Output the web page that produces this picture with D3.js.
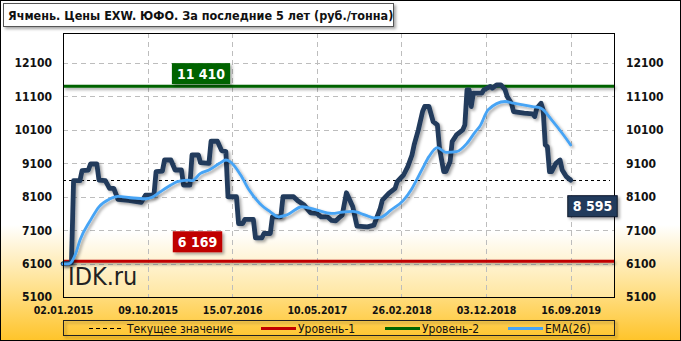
<!DOCTYPE html>
<html lang="ru">
	<head>
		<meta charset="utf-8">
		<title>Ячмень. Цены EXW. ЮФО</title>
		<script type="text/javascript" src="https://cdn.jsdelivr.net/npm/d3@7"></script>
		<style type="text/css">
			body { margin: 0; padding: 0; }
			svg { display: block; }
			text { font-family: "DejaVu Sans Condensed", "DejaVu Sans", sans-serif; }
		</style>
	</head>
	<body>
		<script type="text/javascript">

			/* data: weekly prices, index = week number from 02.01.2015 */
			var priceWeeks = [0, 4, 5, 8, 9, 12, 13, 16, 17, 20, 22, 24, 26, 31, 37, 39, 43, 44, 47, 48,
				51, 53, 56, 57, 60, 61, 64, 65, 69, 70, 73, 75, 77, 78, 82, 83, 85, 86, 90, 91,
				94, 95, 98, 99, 103, 104, 109, 111, 114, 117, 120, 122, 125, 127, 129, 131, 132, 134, 137, 139,
				144, 147, 150, 151, 154, 157, 158, 161, 163, 165, 166, 168, 170, 171, 173, 175, 177, 178, 180, 181,
				183, 184, 186, 189, 190, 191, 192, 193, 194, 198, 199, 202, 203, 205, 207, 209, 210, 212, 213, 218,
				222, 223, 224, 226, 227, 228, 229, 230, 231, 233, 235, 236, 237, 238, 240];
			var priceValues = [6100, 6120, 8580, 8580, 8880, 8900, 9080, 9080, 8600, 8580, 8350, 8350, 8020, 7990, 7930, 8150, 8150, 8850, 8870, 9200,
				9200, 8900, 8900, 8450, 8450, 9350, 9350, 9120, 9100, 9760, 9760, 9480, 9450, 8100, 8100, 7300, 7300, 7420, 7420, 6870,
				6870, 7000, 7000, 7500, 7500, 8100, 8100, 7980, 7850, 7620, 7600, 7500, 7500, 7390, 7380, 7500, 7550, 8220, 7800, 7220,
				7200, 7250, 7750, 8000, 8200, 8350, 8550, 8750, 9000, 9350, 9650, 10100, 10650, 10800, 10800, 10350, 10250, 9550, 8850, 8850,
				9150, 9750, 9950, 10100, 10250, 11300, 11300, 10800, 11200, 11200, 11300, 11400, 11350, 11450, 11450, 11300, 11100, 10900, 10650, 10600,
				10580, 10500, 10750, 10900, 10700, 9650, 9600, 8850, 8850, 9100, 9200, 8900, 8800, 8700, 8595];

			var emaWeeks = [0, 3, 6, 8, 13, 17, 22, 26, 32, 39, 42, 46, 51, 54, 59, 61, 65, 69, 74, 77,
				79, 84, 88, 93, 98, 102, 106, 113, 119, 127, 133, 137, 143, 147, 150, 155, 161, 165, 170, 173,
				177, 181, 186, 191, 195, 197, 201, 209, 213, 222, 226, 231, 236, 240];
			var emaValues = [6090, 6100, 6400, 6800, 7400, 7800, 8030, 8110, 8070, 8040, 8080, 8250, 8450, 8550, 8600, 8580, 8800, 8900, 9100, 9200,
				9150, 8750, 8300, 7900, 7650, 7500, 7560, 7800, 7720, 7600, 7650, 7660, 7550, 7470, 7480, 7700, 8000, 8350, 8950, 9300,
				9570, 9430, 9450, 9700, 10050, 10200, 10700, 10950, 10900, 10800, 10750, 10400, 10000, 9650];

			var tickWeeks = [0, 40, 80, 120, 160, 200, 240];
			var tickLabels = ["02.01.2015", "09.10.2015", "15.07.2016", "10.05.2017", "26.02.2018", "03.12.2018", "16.09.2019"];
			var yTicks = [5100, 6100, 7100, 8100, 9100, 10100, 11100, 12100];

			var level1 = 6169;
			var level2 = 11410;
			var currentValue = 8595;

			var legendNames = ["Текущее значение", "Уровень-1", "Уровень-2", "EMA(26)"];

			/* initial set up */
			var w = 681;
			var h = 341;
			var pLeft = 63, pRight = 614, pTop = 33, pBottom = 297;

			var navy = "#203a5c";
			var ema = "#46a4f5";
			var red = "#c00000";
			var green = "#006400";

			var xScale = d3.scaleLinear()
				.domain([0, 260.5])
				.range([pLeft, pRight]);

			var yScale = d3.scaleLinear()
				.domain([5100, 13000])
				.range([pBottom, pTop]);

			var svg = d3.select("body")
				.append("svg")
				.attr("width", w)
				.attr("height", h);

			var defs = svg.append("defs");

			var bg = defs.append("linearGradient")
				.attr("id", "bg")
				.attr("x1", 0).attr("y1", 0).attr("x2", 0).attr("y2", 1);
			bg.append("stop").attr("offset", "0").attr("stop-color", "#ffffff");
			bg.append("stop").attr("offset", "0.66").attr("stop-color", "#ffffff");
			bg.append("stop").attr("offset", "0.85").attr("stop-color", "#ffe08a");
			bg.append("stop").attr("offset", "1").attr("stop-color", "#ffc42a");

			var pbg = defs.append("linearGradient")
				.attr("id", "pbg")
				.attr("x1", 0).attr("y1", 0).attr("x2", 0).attr("y2", 1);
			pbg.append("stop").attr("offset", "0").attr("stop-color", "#ffffff");
			pbg.append("stop").attr("offset", "0.75").attr("stop-color", "#ffffff");
			pbg.append("stop").attr("offset", "1").attr("stop-color", "#ffe6a0");

			/* shadow in user space, so flat lines get one too */
			var shadow = defs.append("filter")
				.attr("id", "shadow")
				.attr("filterUnits", "userSpaceOnUse")
				.attr("x", 0).attr("y", 0)
				.attr("width", w).attr("height", h);
			shadow.append("feDropShadow")
				.attr("dx", 2).attr("dy", 2)
				.attr("stdDeviation", 1.5)
				.attr("flood-color", "#000")
				.attr("flood-opacity", 0.35);

			/* background + frame */
			svg.append("rect")
				.attr("x", 0.5).attr("y", 0.5)
				.attr("width", w - 1).attr("height", h - 1)
				.attr("fill", "url(#bg)")
				.attr("stroke", "#000");

			svg.append("rect")
				.attr("x", pLeft).attr("y", pTop)
				.attr("width", pRight - pLeft).attr("height", pBottom - pTop)
				.attr("fill", "url(#pbg)");

			/* title */
			svg.append("rect")
				.attr("x", 3.5).attr("y", 3.5)
				.attr("width", 390).attr("height", 23)
				.attr("fill", "#fff")
				.attr("stroke", "#555")
				.attr("filter", "url(#shadow)");

			svg.append("text")
				.attr("x", 8).attr("y", 20)
				.attr("font-size", "12.5px")
				.attr("font-weight", "bold")
				.attr("fill", "#111")
				.text("Ячмень. Цены EXW. ЮФО. За последние 5 лет (руб./тонна)");

			/* grid */
			svg.append("g")
				.selectAll("line")
				.data(yTicks.slice(1))
				.enter()
				.append("line")
				.attr("x1", pLeft).attr("x2", pRight)
				.attr("y1", function(d) { return Math.round(yScale(d)) + 0.5; })
				.attr("y2", function(d) { return Math.round(yScale(d)) + 0.5; })
				.attr("stroke", "#bdbdbd")
				.attr("stroke-dasharray", "5,4");

			svg.append("g")
				.selectAll("line")
				.data(tickWeeks.slice(1))
				.enter()
				.append("line")
				.attr("x1", function(d) { return Math.round(xScale(d)) + 0.5; })
				.attr("x2", function(d) { return Math.round(xScale(d)) + 0.5; })
				.attr("y1", pTop).attr("y2", pBottom)
				.attr("stroke", "#bdbdbd")
				.attr("stroke-dasharray", "5,4");

			/* axes */
			var leftAxis = d3.axisLeft(yScale).tickValues(yTicks).tickFormat(d3.format("d")).tickSize(0).tickPadding(11);
			var rightAxis = d3.axisRight(yScale).tickValues(yTicks).tickFormat(d3.format("d")).tickSize(0).tickPadding(12);
			var bottomAxis = d3.axisBottom(xScale)
				.tickValues(tickWeeks)
				.tickSize(0)
				.tickPadding(10)
				.tickFormat(function(d, i) { return tickLabels[i]; });

			var gLeft = svg.append("g").attr("transform", "translate(" + pLeft + ",0)").call(leftAxis);
			var gRight = svg.append("g").attr("transform", "translate(" + pRight + ",0)").call(rightAxis);
			var gBottom = svg.append("g").attr("transform", "translate(0," + pBottom + ")").call(bottomAxis);

			[gLeft, gRight, gBottom].forEach(function(g, i) {
				g.select(".domain").remove();
				g.selectAll("text")
					.attr("font-family", "'DejaVu Sans', sans-serif")
					.attr("font-weight", "bold")
					.attr("font-size", i === 2 ? "10.5px" : "12px")
					.attr("fill", "#111");
			});

			/* watermark */
			svg.append("text")
				.attr("x", 68).attr("y", 285)
				.attr("font-family", "'Liberation Sans', Arial, sans-serif")
				.attr("font-size", "25px")
				.attr("fill", "#222")
				.text("IDK.ru");

			/* levels */
			svg.append("line")
				.attr("x1", pLeft).attr("x2", pRight)
				.attr("y1", yScale(level2)).attr("y2", yScale(level2))
				.attr("stroke", green).attr("stroke-width", 3)
				.attr("filter", "url(#shadow)");

			svg.append("line")
				.attr("x1", pLeft).attr("x2", pRight)
				.attr("y1", yScale(level1)).attr("y2", yScale(level1))
				.attr("stroke", red).attr("stroke-width", 3)
				.attr("filter", "url(#shadow)");

			svg.append("line")
				.attr("x1", pLeft).attr("x2", 610)
				.attr("y1", Math.round(yScale(currentValue)) + 0.5)
				.attr("y2", Math.round(yScale(currentValue)) + 0.5)
				.attr("stroke", "#000")
				.attr("stroke-dasharray", "3,3");

			/* series */
			var line = d3.line()
				.x(function(d) { return xScale(d[0]); })
				.y(function(d) { return yScale(d[1]); });

			var priceData = d3.zip(priceWeeks, priceValues);
			var emaData = d3.zip(emaWeeks, emaValues);

			svg.append("path")
				.datum(priceData)
				.attr("d", line)
				.attr("fill", "none")
				.attr("stroke", navy)
				.attr("stroke-width", 4.8)
				.attr("stroke-linejoin", "round")
				.attr("stroke-linecap", "round")
				.attr("filter", "url(#shadow)");

			svg.append("path")
				.datum(emaData)
				.attr("d", line.curve(d3.curveMonotoneX))
				.attr("fill", "none")
				.attr("stroke", ema)
				.attr("stroke-width", 2.8)
				.attr("stroke-linejoin", "round")
				.attr("stroke-linecap", "round")
				.attr("filter", "url(#shadow)");

			/* plot border */
			svg.append("rect")
				.attr("x", pLeft + 0.5).attr("y", pTop + 0.5)
				.attr("width", pRight - pLeft).attr("height", pBottom - pTop)
				.attr("fill", "none")
				.attr("stroke", "#000");

			/* value labels */
			var labelFmt = function(v) { return d3.format(",")(v).replace(",", " "); };

			var labels = [
				{ v: level2, cx: 201, y: yScale(level2) - 23, fill: green },
				{ v: level1, cx: 197.5, y: yScale(level1) - 30, fill: red },
				{ v: currentValue, cx: 592.5, y: yScale(currentValue) + 15.5, fill: navy }
			];

			var lab = svg.append("g")
				.selectAll("g")
				.data(labels)
				.enter()
				.append("g");

			lab.append("text")
				.attr("x", function(d) { return d.cx; })
				.attr("y", function(d) { return d.y + 15.5; })
				.attr("text-anchor", "middle")
				.attr("font-family", "'DejaVu Serif', serif")
				.attr("font-weight", "bold")
				.attr("font-size", "14px")
				.attr("fill", "#fff")
				.text(function(d) { return labelFmt(d.v); })
				.each(function(d) { d.tw = this.getComputedTextLength(); });

			lab.insert("rect", "text")
				.attr("x", function(d) { return d.cx - d.tw / 2 - 5; })
				.attr("y", function(d) { return d.y; })
				.attr("width", function(d) { return d.tw + 10; })
				.attr("height", 21)
				.attr("fill", function(d) { return d.fill; })
				.attr("stroke", function(d) { return d.v === currentValue ? "#0d1a2c" : "none"; })
				.attr("filter", "url(#shadow)");

			/* legend */
			svg.append("rect")
				.attr("x", pLeft + 0.5).attr("y", 320.5)
				.attr("width", pRight - pLeft).attr("height", 15)
				.attr("fill", "none")
				.attr("stroke", "#222")
				.attr("filter", "url(#shadow)");

			var legendX = [89, 261, 385, 508];
			var legendStroke = ["#000", red, green, ema];

			var leg = svg.append("g")
				.selectAll("g")
				.data(legendNames)
				.enter()
				.append("g");

			leg.append("line")
				.attr("x1", function(d, i) { return legendX[i]; })
				.attr("x2", function(d, i) { return legendX[i] + 35; })
				.attr("y1", 328.5).attr("y2", 328.5)
				.attr("stroke", function(d, i) { return legendStroke[i]; })
				.attr("stroke-width", function(d, i) { return i === 0 ? 1 : 3; })
				.attr("stroke-dasharray", function(d, i) { return i === 0 ? "4,3" : null; });

			leg.append("text")
				.attr("x", function(d, i) { return legendX[i] + (i === 0 ? 38 : 37); })
				.attr("y", 332.5)
				.attr("font-family", "'DejaVu Sans Condensed', 'DejaVu Sans', sans-serif")
				.attr("font-size", "12px")
				.attr("fill", "#111")
				.text(function(d) { return d; });

		</script>
	</body>
</html>
